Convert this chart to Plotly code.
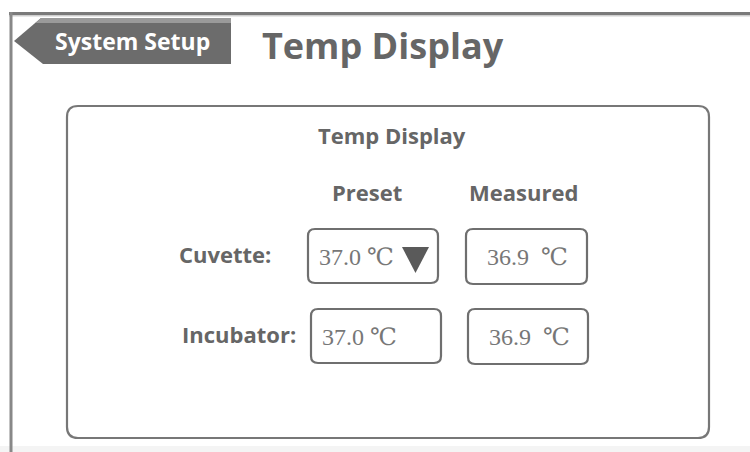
import plotly.graph_objects as go

# ---- content ----
back_label = "System Setup"
page_title = "Temp Display"
panel_title = "Temp Display"
column_headers = ["Preset", "Measured"]
row_labels = ["Cuvette:", "Incubator:"]
preset_values = ["37.0", "37.0"]
measured_values = ["36.9", "36.9"]
unit = "℃"

W, H = 750, 452
BOLD = "Open Sans"
SERIF = "Liberation Serif, DejaVu Serif, serif"
TXT = "#666666"


def rrect(x0, y0, x1, y1, r):
    return (f"M{x0+r},{y0} L{x1-r},{y0} Q{x1},{y0} {x1},{y0+r} "
            f"L{x1},{y1-r} Q{x1},{y1} {x1-r},{y1} L{x0+r},{y1} "
            f"Q{x0},{y1} {x0},{y1-r} L{x0},{y0+r} Q{x0},{y0} {x0+r},{y0} Z")


fig = go.Figure()
fig.add_trace(go.Scatter(x=[0, W], y=[0, H], mode="markers",
                         marker=dict(opacity=0), hoverinfo="skip", showlegend=False))

shapes = []
shapes.append(dict(type="rect", x0=0, x1=W, y0=446, y1=H, line=dict(width=0),
                   fillcolor="#f4f4f4", layer="below"))
shapes.append(dict(type="line", x0=9, x1=W, y0=13.5, y1=13.5,
                   line=dict(color="#7a7a7a", width=3)))
shapes.append(dict(type="line", x0=9, x1=W, y0=15.8, y1=15.8,
                   line=dict(color="#cfcfcf", width=1.5)))
shapes.append(dict(type="line", x0=11, x1=11, y0=12, y1=H,
                   line=dict(color="#888888", width=3)))

# back button
shapes.append(dict(type="path",
                   path="M14,41 L41,18 L231,18 L231,64 L43,64 Z",
                   fillcolor="#6c6c6c", line=dict(width=0)))
shapes.append(dict(type="path",
                   path="M35.5,23 L41,18 L231,18 L231,23 Z",
                   fillcolor="#9a9a9a", line=dict(width=0)))

# panel
shapes.append(dict(type="path", path=rrect(67, 106, 709, 438, 11),
                   line=dict(color="#777777", width=2.2), fillcolor="white"))

preset_boxes = [(308, 229, 438, 283), (311, 309, 441, 363)]
measured_boxes = [(466, 229, 587, 284), (468, 309, 588, 364)]
for b in preset_boxes + measured_boxes:
    shapes.append(dict(type="path", path=rrect(*b, 7),
                       line=dict(color="#6f6f6f", width=2.2), fillcolor="white"))

shapes.append(dict(type="path", path="M402,247 L429,247 L415.5,273 Z",
                   fillcolor="#5a5a5a", line=dict(width=0)))

ann = []
ann.append(dict(x=132, y=41, text=f"<b>{back_label}</b>", showarrow=False,
                font=dict(family=BOLD, size=23, color="white"),
                xanchor="center", yanchor="middle"))
ann.append(dict(x=383, y=45, text=f"<b>{page_title}</b>", showarrow=False,
                font=dict(family=BOLD, size=36, color=TXT),
                xanchor="center", yanchor="middle"))
ann.append(dict(x=392, y=135, text=f"<b>{panel_title}</b>", showarrow=False,
                font=dict(family=BOLD, size=22, color=TXT),
                xanchor="center", yanchor="middle"))
header_x = [367, 523]
for hx, h in zip(header_x, column_headers):
    ann.append(dict(x=hx, y=192, text=f"<b>{h}</b>", showarrow=False,
                    font=dict(family=BOLD, size=22, color=TXT),
                    xanchor="center", yanchor="middle"))

row_y = [256, 336]
label_cx = [225, 239]
for ry, lx, lab in zip(row_y, label_cx, row_labels):
    ann.append(dict(x=lx, y=ry - 2, text=f"<b>{lab}</b>", showarrow=False,
                    font=dict(family=BOLD, size=22, color=TXT),
                    xanchor="center", yanchor="middle"))

preset_left = [317, 320]
for ry, px, v in zip(row_y, preset_left, preset_values):
    ann.append(dict(x=px, y=ry + 1, text=f"{v} {unit}", showarrow=False,
                    font=dict(family=SERIF, size=24, color="#777777"),
                    xanchor="left", yanchor="middle"))

measured_cx = [527, 529]
for ry, mx, v in zip(row_y, measured_cx, measured_values):
    ann.append(dict(x=mx, y=ry + 1, text=f"{v}\u00a0\u00a0{unit}", showarrow=False,
                    font=dict(family=SERIF, size=24, color="#777777"),
                    xanchor="center", yanchor="middle"))

fig.update_layout(
    width=W, height=H, margin=dict(l=0, r=0, t=0, b=0),
    paper_bgcolor="white", plot_bgcolor="white",
    xaxis=dict(range=[0, W], visible=False, fixedrange=True),
    yaxis=dict(range=[H, 0], visible=False, fixedrange=True),
    shapes=shapes, annotations=ann, showlegend=False,
)
fig.write_html("out.html", config={"displayModeBar": False},
               post_script="document.body.style.margin='0';document.body.style.overflow='hidden';")
